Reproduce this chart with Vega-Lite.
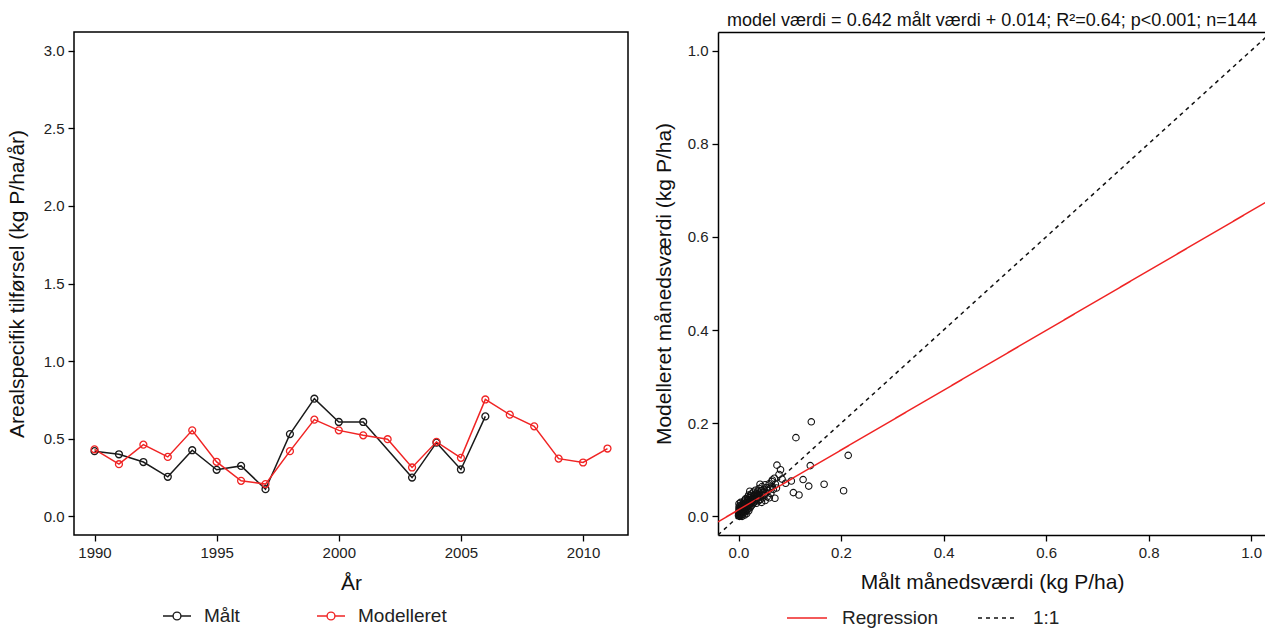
{
  "$schema": "https://vega.github.io/schema/vega-lite/v6.json",
  "padding": {"left": 5, "top": 12, "right": 0, "bottom": 0},
  "background": "white",
  "spacing": 24,
  "resolve": {
    "scale": {"color": "independent", "strokeDash": "independent"},
    "legend": {"color": "independent", "strokeDash": "independent"}
  },
  "config": {
    "font": "Liberation Sans",
    "axis": {
      "labelFont": "Liberation Sans",
      "titleFont": "Liberation Sans",
      "labelFontSize": 15,
      "titleFontSize": 21,
      "titleFontWeight": "normal",
      "labelColor": "#222222",
      "titleColor": "#111111",
      "tickColor": "#000000",
      "domainColor": "#000000",
      "tickSize": 6,
      "tickWidth": 1.3,
      "domainWidth": 1.5,
      "grid": false,
      "labelPadding": 4
    },
    "legend": {
      "labelFont": "Liberation Sans",
      "labelFontSize": 19,
      "labelColor": "#222222"
    }
  },
  "datasets": {
    "annual": [
      {"year": 1990, "serie": "Målt", "value": 0.42},
      {"year": 1991, "serie": "Målt", "value": 0.40},
      {"year": 1992, "serie": "Målt", "value": 0.35},
      {"year": 1993, "serie": "Målt", "value": 0.255},
      {"year": 1994, "serie": "Målt", "value": 0.426},
      {"year": 1995, "serie": "Målt", "value": 0.30},
      {"year": 1996, "serie": "Målt", "value": 0.325},
      {"year": 1997, "serie": "Målt", "value": 0.175},
      {"year": 1998, "serie": "Målt", "value": 0.53},
      {"year": 1999, "serie": "Målt", "value": 0.758},
      {"year": 2000, "serie": "Målt", "value": 0.608},
      {"year": 2001, "serie": "Målt", "value": 0.608},
      {"year": 2003, "serie": "Målt", "value": 0.25},
      {"year": 2004, "serie": "Målt", "value": 0.475},
      {"year": 2005, "serie": "Målt", "value": 0.302},
      {"year": 2006, "serie": "Målt", "value": 0.644},
      {"year": 1990, "serie": "Modelleret", "value": 0.432},
      {"year": 1991, "serie": "Modelleret", "value": 0.336},
      {"year": 1992, "serie": "Modelleret", "value": 0.462},
      {"year": 1993, "serie": "Modelleret", "value": 0.383},
      {"year": 1994, "serie": "Modelleret", "value": 0.554},
      {"year": 1995, "serie": "Modelleret", "value": 0.351},
      {"year": 1996, "serie": "Modelleret", "value": 0.229},
      {"year": 1997, "serie": "Modelleret", "value": 0.208},
      {"year": 1998, "serie": "Modelleret", "value": 0.42},
      {"year": 1999, "serie": "Modelleret", "value": 0.623},
      {"year": 2000, "serie": "Modelleret", "value": 0.554},
      {"year": 2001, "serie": "Modelleret", "value": 0.522},
      {"year": 2002, "serie": "Modelleret", "value": 0.497},
      {"year": 2003, "serie": "Modelleret", "value": 0.315},
      {"year": 2004, "serie": "Modelleret", "value": 0.48},
      {"year": 2005, "serie": "Modelleret", "value": 0.377},
      {"year": 2006, "serie": "Modelleret", "value": 0.753},
      {"year": 2007, "serie": "Modelleret", "value": 0.655},
      {"year": 2008, "serie": "Modelleret", "value": 0.58},
      {"year": 2009, "serie": "Modelleret", "value": 0.372},
      {"year": 2010, "serie": "Modelleret", "value": 0.347},
      {"year": 2011, "serie": "Modelleret", "value": 0.437}
    ],
    "monthly": [
      {"measured": 0.142, "modelled": 0.203}, {"measured": 0.112, "modelled": 0.169},
      {"measured": 0.214, "modelled": 0.131}, {"measured": 0.140, "modelled": 0.109},
      {"measured": 0.205, "modelled": 0.055}, {"measured": 0.167, "modelled": 0.069},
      {"measured": 0.137, "modelled": 0.065}, {"measured": 0.126, "modelled": 0.079},
      {"measured": 0.107, "modelled": 0.051}, {"measured": 0.118, "modelled": 0.046},
      {"measured": 0.103, "modelled": 0.076}, {"measured": 0.082, "modelled": 0.100},
      {"measured": 0.075, "modelled": 0.110}, {"measured": 0.079, "modelled": 0.090},
      {"measured": 0.071, "modelled": 0.039}, {"measured": 0.092, "modelled": 0.071},
      {"measured": 0.066, "modelled": 0.078}, {"measured": 0.042, "modelled": 0.069},
      {"measured": 0.022, "modelled": 0.054}, {"measured": 0.085, "modelled": 0.080},
      {"measured": 0.001, "modelled": 0.004}, {"measured": 0.002, "modelled": 0.006},
      {"measured": 0.002, "modelled": 0.010}, {"measured": 0.003, "modelled": 0.008},
      {"measured": 0.003, "modelled": 0.013}, {"measured": 0.004, "modelled": 0.005},
      {"measured": 0.004, "modelled": 0.011}, {"measured": 0.005, "modelled": 0.015},
      {"measured": 0.005, "modelled": 0.009}, {"measured": 0.006, "modelled": 0.007},
      {"measured": 0.006, "modelled": 0.018}, {"measured": 0.007, "modelled": 0.012},
      {"measured": 0.007, "modelled": 0.020}, {"measured": 0.008, "modelled": 0.010},
      {"measured": 0.008, "modelled": 0.016}, {"measured": 0.009, "modelled": 0.022},
      {"measured": 0.009, "modelled": 0.013}, {"measured": 0.010, "modelled": 0.018},
      {"measured": 0.010, "modelled": 0.008}, {"measured": 0.011, "modelled": 0.025},
      {"measured": 0.011, "modelled": 0.015}, {"measured": 0.012, "modelled": 0.020},
      {"measured": 0.012, "modelled": 0.012}, {"measured": 0.013, "modelled": 0.028},
      {"measured": 0.013, "modelled": 0.017}, {"measured": 0.014, "modelled": 0.022},
      {"measured": 0.014, "modelled": 0.010}, {"measured": 0.015, "modelled": 0.030},
      {"measured": 0.015, "modelled": 0.019}, {"measured": 0.016, "modelled": 0.024},
      {"measured": 0.016, "modelled": 0.014}, {"measured": 0.017, "modelled": 0.033},
      {"measured": 0.017, "modelled": 0.020}, {"measured": 0.018, "modelled": 0.027},
      {"measured": 0.018, "modelled": 0.016}, {"measured": 0.019, "modelled": 0.036},
      {"measured": 0.019, "modelled": 0.023}, {"measured": 0.020, "modelled": 0.029},
      {"measured": 0.020, "modelled": 0.012}, {"measured": 0.021, "modelled": 0.040},
      {"measured": 0.021, "modelled": 0.025}, {"measured": 0.022, "modelled": 0.032},
      {"measured": 0.022, "modelled": 0.018}, {"measured": 0.023, "modelled": 0.044},
      {"measured": 0.023, "modelled": 0.027}, {"measured": 0.024, "modelled": 0.035},
      {"measured": 0.024, "modelled": 0.021}, {"measured": 0.025, "modelled": 0.030},
      {"measured": 0.025, "modelled": 0.048}, {"measured": 0.026, "modelled": 0.038},
      {"measured": 0.026, "modelled": 0.024}, {"measured": 0.027, "modelled": 0.033},
      {"measured": 0.028, "modelled": 0.041}, {"measured": 0.028, "modelled": 0.027},
      {"measured": 0.029, "modelled": 0.052}, {"measured": 0.029, "modelled": 0.036},
      {"measured": 0.030, "modelled": 0.044}, {"measured": 0.030, "modelled": 0.030},
      {"measured": 0.031, "modelled": 0.039}, {"measured": 0.032, "modelled": 0.047},
      {"measured": 0.032, "modelled": 0.033}, {"measured": 0.033, "modelled": 0.056},
      {"measured": 0.033, "modelled": 0.042}, {"measured": 0.034, "modelled": 0.036},
      {"measured": 0.035, "modelled": 0.050}, {"measured": 0.035, "modelled": 0.028},
      {"measured": 0.036, "modelled": 0.044}, {"measured": 0.037, "modelled": 0.039},
      {"measured": 0.038, "modelled": 0.054}, {"measured": 0.038, "modelled": 0.047},
      {"measured": 0.039, "modelled": 0.033}, {"measured": 0.040, "modelled": 0.060},
      {"measured": 0.040, "modelled": 0.042}, {"measured": 0.041, "modelled": 0.050},
      {"measured": 0.042, "modelled": 0.045}, {"measured": 0.043, "modelled": 0.037},
      {"measured": 0.044, "modelled": 0.055}, {"measured": 0.045, "modelled": 0.048},
      {"measured": 0.046, "modelled": 0.064}, {"measured": 0.047, "modelled": 0.040},
      {"measured": 0.048, "modelled": 0.052}, {"measured": 0.050, "modelled": 0.058},
      {"measured": 0.050, "modelled": 0.045}, {"measured": 0.052, "modelled": 0.068},
      {"measured": 0.053, "modelled": 0.050}, {"measured": 0.055, "modelled": 0.062},
      {"measured": 0.056, "modelled": 0.042}, {"measured": 0.058, "modelled": 0.055},
      {"measured": 0.060, "modelled": 0.070}, {"measured": 0.061, "modelled": 0.060},
      {"measured": 0.063, "modelled": 0.049}, {"measured": 0.065, "modelled": 0.075},
      {"measured": 0.066, "modelled": 0.064}, {"measured": 0.068, "modelled": 0.058},
      {"measured": 0.070, "modelled": 0.082}, {"measured": 0.072, "modelled": 0.069},
      {"measured": 0.074, "modelled": 0.061}, {"measured": 0.052, "modelled": 0.034},
      {"measured": 0.045, "modelled": 0.030}, {"measured": 0.060, "modelled": 0.040},
      {"measured": 0.000, "modelled": 0.002}, {"measured": 0.000, "modelled": 0.008},
      {"measured": 0.001, "modelled": 0.014}, {"measured": 0.001, "modelled": 0.001},
      {"measured": 0.002, "modelled": 0.017}, {"measured": 0.003, "modelled": 0.003},
      {"measured": 0.004, "modelled": 0.020}, {"measured": 0.005, "modelled": 0.002},
      {"measured": 0.006, "modelled": 0.024}, {"measured": 0.008, "modelled": 0.004},
      {"measured": 0.009, "modelled": 0.027}, {"measured": 0.010, "modelled": 0.031},
      {"measured": 0.012, "modelled": 0.035}, {"measured": 0.014, "modelled": 0.038},
      {"measured": 0.016, "modelled": 0.006}, {"measured": 0.018, "modelled": 0.042},
      {"measured": 0.020, "modelled": 0.046}, {"measured": 0.002, "modelled": 0.000},
      {"measured": 0.001, "modelled": 0.020}, {"measured": 0.003, "modelled": 0.024},
      {"measured": 0.001, "modelled": 0.027}, {"measured": 0.004, "modelled": 0.030},
      {"measured": 0.007, "modelled": 0.000}, {"measured": 0.012, "modelled": 0.003}
    ],
    "fits": [
      {"type": "Regression", "x": -0.04, "y": -0.01168},
      {"type": "Regression", "x": 1.04, "y": 0.68168},
      {"type": "1:1", "x": -0.04, "y": -0.04},
      {"type": "1:1", "x": 1.04, "y": 1.04}
    ]
  },
  "hconcat": [
    {
      "width": 554,
      "height": 503,
      "view": {"stroke": "#000000", "strokeWidth": 1.5},
      "data": {"name": "annual"},
      "mark": {
        "type": "line",
        "strokeWidth": 1.5,
        "point": {"filled": false, "size": 48, "strokeWidth": 1.3}
      },
      "encoding": {
        "x": {
          "field": "year",
          "type": "quantitative",
          "scale": {"domain": [1989.16, 2011.84], "nice": false, "zero": false},
          "axis": {"values": [1990, 1995, 2000, 2005, 2010], "format": "d", "title": "År", "titlePadding": 12, "domain": false}
        },
        "y": {
          "field": "value",
          "type": "quantitative",
          "scale": {"domain": [-0.12, 3.12], "nice": false},
          "axis": {"values": [0, 0.5, 1, 1.5, 2, 2.5, 3], "format": ".1f", "title": "Arealspecifik tilførsel (kg P/ha/år)", "titlePadding": 16, "domain": false}
        },
        "color": {
          "field": "serie",
          "type": "nominal",
          "scale": {"domain": ["Målt", "Modelleret"], "range": ["#1a1a1a", "#f02424"]},
          "legend": {
            "title": null,
            "orient": "none",
            "legendX": 88,
            "legendY": 569,
            "direction": "horizontal",
            "symbolType": "M-1,0L-0.28,0M0.28,0L1,0M-0.28,0A0.28,0.28,0,1,0,0.28,0A0.28,0.28,0,1,0,-0.28,0",
            "symbolSize": 784,
            "symbolStrokeWidth": 1.4,
            "symbolFillColor": "transparent",
            "labelOffset": 12,
            "columnPadding": 74
          }
        }
      }
    },
    {
      "width": 548,
      "height": 503,
      "view": {"stroke": null},
      "title": {
        "text": "model værdi = 0.642 målt værdi + 0.014; R²=0.64; p<0.001; n=144",
        "font": "Liberation Sans",
        "fontSize": 18,
        "fontWeight": "normal",
        "color": "#111111",
        "anchor": "middle",
        "offset": 2
      },
      "layer": [
        {
          "data": {"name": "monthly"},
          "mark": {"type": "point", "shape": "circle", "filled": false, "size": 42, "strokeWidth": 1.1, "color": "#111111", "opacity": 1},
          "encoding": {
            "x": {
              "field": "measured",
              "type": "quantitative",
              "scale": {"domain": [-0.04, 1.029], "nice": false, "zero": false},
              "axis": {"values": [0, 0.2, 0.4, 0.6, 0.8, 1.0], "format": ".1f", "title": "Målt månedsværdi (kg P/ha)", "titlePadding": 11}
            },
            "y": {
              "field": "modelled",
              "type": "quantitative",
              "scale": {"domain": [-0.04, 1.04], "nice": false, "zero": false},
              "axis": {"values": [0, 0.2, 0.4, 0.6, 0.8, 1.0], "format": ".1f", "title": "Modelleret månedsværdi (kg P/ha)", "titlePadding": 13}
            }
          }
        },
        {
          "data": {"name": "fits"},
          "mark": {"type": "line", "clip": true, "strokeWidth": 1.5},
          "encoding": {
            "x": {
              "field": "x",
              "type": "quantitative",
              "axis": {"orient": "top", "labels": false, "ticks": false, "title": null, "domain": true}
            },
            "y": {"field": "y", "type": "quantitative"},
            "color": {
              "field": "type",
              "type": "nominal",
              "scale": {"domain": ["Regression", "1:1"], "range": ["#f02424", "#111111"]},
              "legend": {
                "title": null,
                "orient": "none",
                "legendX": 68,
                "legendY": 565,
                "direction": "horizontal",
                "symbolType": "stroke",
                "symbolSize": 1600,
                "symbolStrokeWidth": 1.5,
                "labelOffset": 14,
                "columnPadding": 36
              }
            },
            "strokeDash": {
              "field": "type",
              "type": "nominal",
              "scale": {"domain": ["Regression", "1:1"], "range": [[1, 0], [4, 4]]},
              "legend": {
                "title": null,
                "orient": "none",
                "legendX": 68,
                "legendY": 565,
                "direction": "horizontal",
                "symbolType": "stroke",
                "symbolSize": 1600,
                "symbolStrokeWidth": 1.5,
                "labelOffset": 14,
                "columnPadding": 36
              }
            }
          }
        }
      ],
      "resolve": {"axis": {"x": "independent"}}
    }
  ]
}
